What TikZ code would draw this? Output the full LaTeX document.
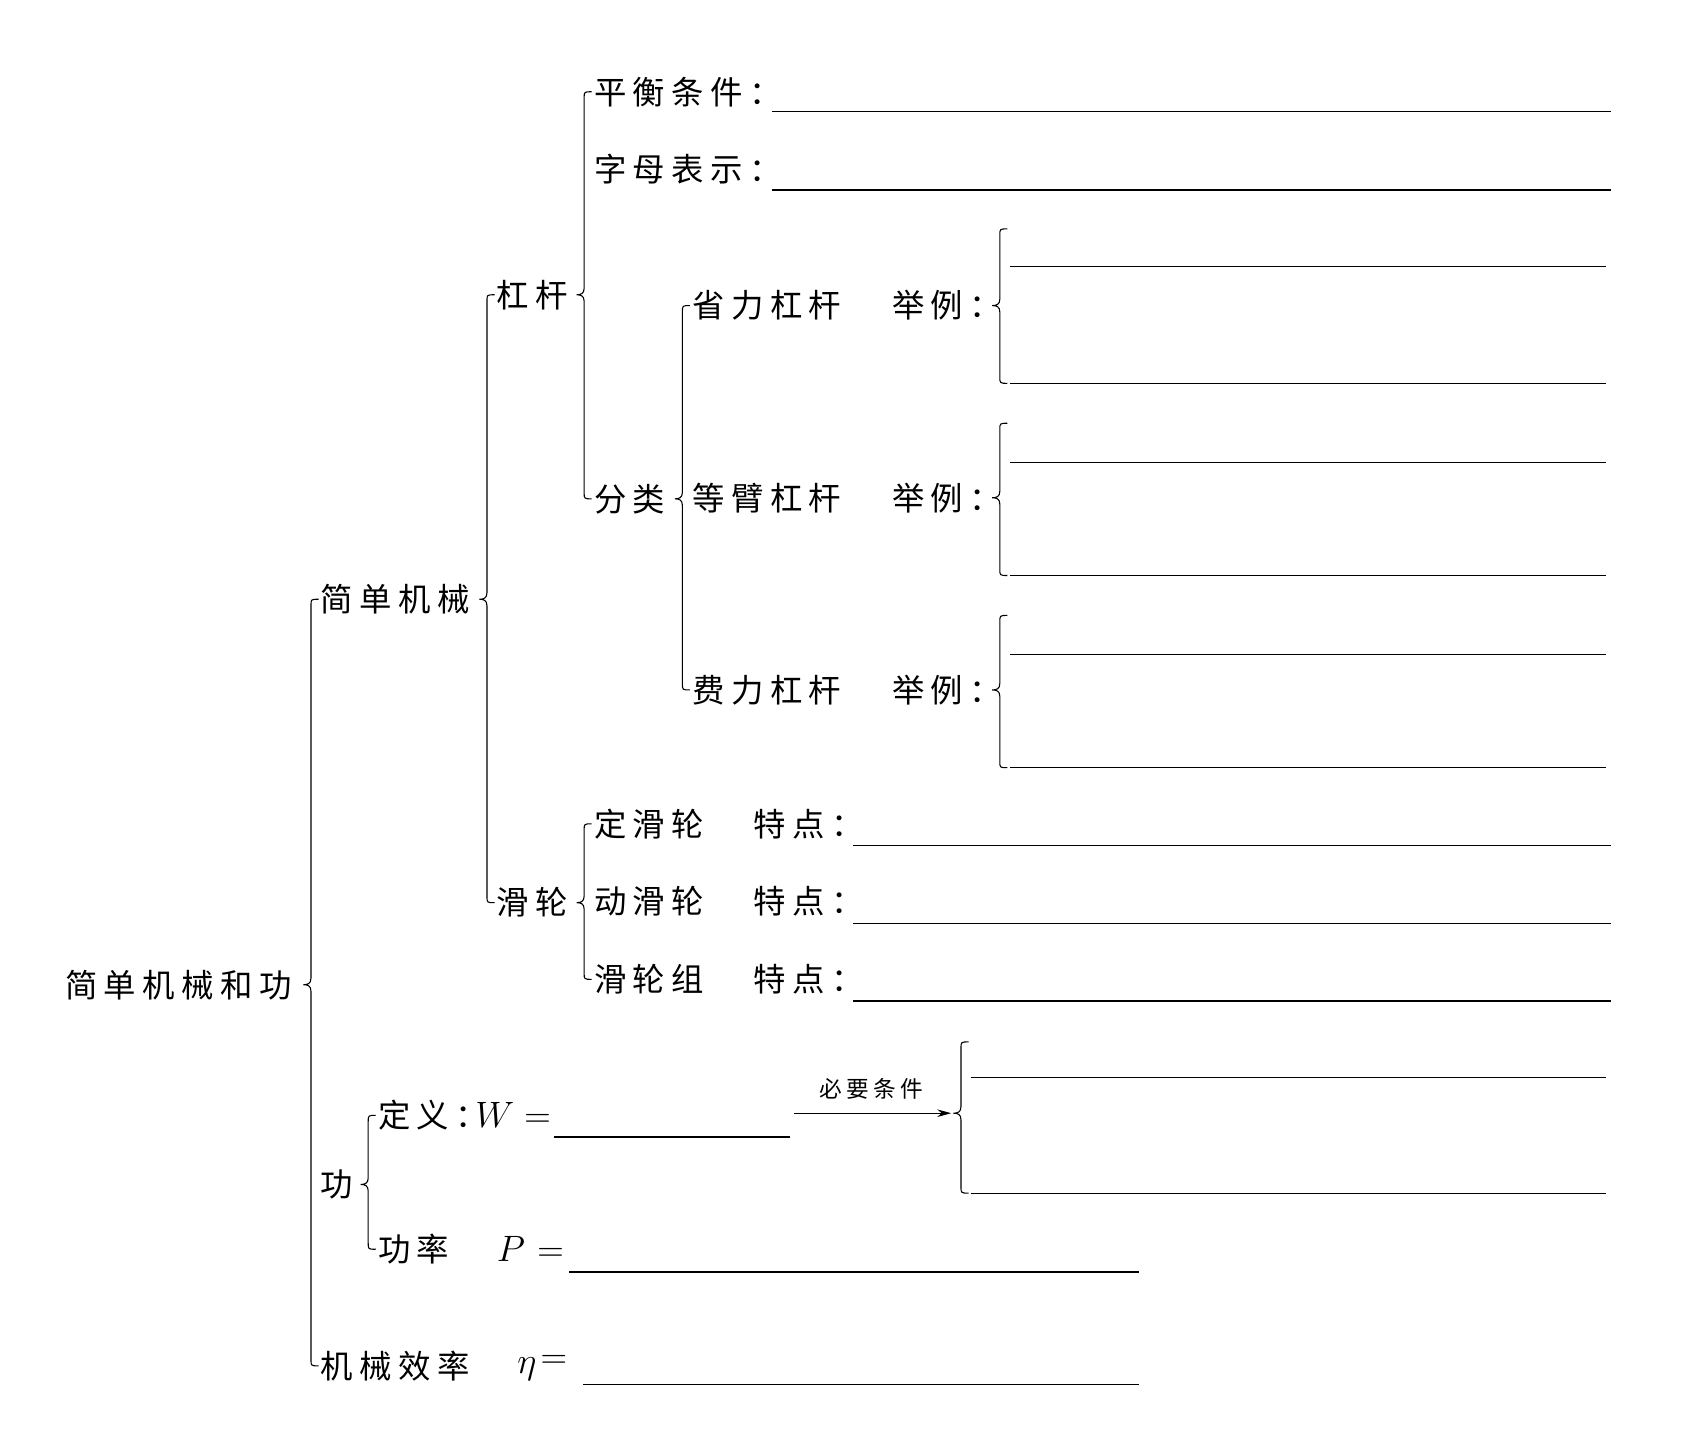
\RequirePackage{fix-cm}
\documentclass[tikz,border=0pt]{standalone}
\usepackage{fontspec}
\newfontfamily\cjk[LetterSpace=20]{Noto Sans CJK SC}
\usetikzlibrary{arrows.meta,calc}
\newcommand\brc[3]{%
  \draw[brc] let \p1=#1, \p2=#2, \p3=#3 in
   (\x2-2pt,\y2) .. controls (\x2-9pt,\y2) .. (\x2-9pt,\y2-6pt)
   -- (\x2-9pt,\y1+6pt) .. controls (\x2-9pt,\y1+1pt) and (\x2-12pt,\y1) .. (\x2-16pt,\y1)
   .. controls (\x2-12pt,\y1) and (\x2-9pt,\y1-1pt) .. (\x2-9pt,\y1-6pt)
   -- (\x2-9pt,\y3+6pt) .. controls (\x2-9pt,\y3) .. (\x3-2pt,\y3);}
\begin{document}
\begin{tikzpicture}[x=1pt,y=-1pt,
  txt/.style={anchor=west,inner sep=0pt,font=\cjk\fontsize{30}{36}\selectfont},
  mth/.style={anchor=west,inner sep=0pt,font=\fontsize{34}{40}\selectfont},
  small/.style={inner sep=0pt,font=\cjk\fontsize{21}{25}\selectfont},
  blank/.style={line width=1.1pt},
  brc/.style={line width=1pt}]
\useasboundingbox[fill=white] (0,0) rectangle (1568,1338);

% level 0 / 1
\node[txt] (root) at (60,912) {简单机械和功};
\node[txt] (jdjx) at (297,555) {简单机械};
\node[txt] (gong) at (297,1097) {功};
\node[txt] (jxxl) at (297,1265) {机械效率};
\node[mth] (eta) at (479,1267) {$\eta\mkern2mu\raisebox{5pt}{$=$}$};
\coordinate (e1) at (540,1282); \coordinate (e2) at (1055,1282);
\draw[blank] (e1) -- (e2);

% under 简单机械
\node[txt] (gg) at (460,273) {杠杆};
\node[txt] (hl) at (460,836) {滑轮};

% under 杠杆
\node[txt] (ph) at (550,85) {平衡条件：};
\coordinate (p1) at (715,103); \coordinate (p2) at (1492,103);
\draw[blank] (p1) -- (p2);
\node[txt] (zm) at (550,157) {字母表示：};
\coordinate (z1) at (715,176); \coordinate (z2) at (1492,176);
\draw[blank] (z1) -- (z2);
\node[txt] (fl) at (550,462) {分类};

% under 分类
\node[txt] (sl) at (641,283) {省力杠杆};
\node[txt] (jl1) at (826,283) {举例：};
\node[txt] (db) at (641,461) {等臂杠杆};
\node[txt] (jl2) at (826,461) {举例：};
\node[txt] (fll) at (641,639) {费力杠杆};
\node[txt] (jl3) at (826,639) {举例：};

\coordinate (s1t) at (935,212); \coordinate (s1b) at (935,355);
\coordinate (s1a) at (935,247); \coordinate (s1c) at (1487,247); \coordinate (s1d) at (1487,355);
\draw[blank] (s1a) -- (s1c); \draw[blank] (s1b) -- (s1d);
\coordinate (s2t) at (935,392); \coordinate (s2b) at (935,533);
\coordinate (s2a) at (935,428); \coordinate (s2c) at (1487,428); \coordinate (s2d) at (1487,533);
\draw[blank] (s2a) -- (s2c); \draw[blank] (s2b) -- (s2d);
\coordinate (s3t) at (935,570); \coordinate (s3b) at (935,711);
\coordinate (s3a) at (935,606); \coordinate (s3c) at (1487,606); \coordinate (s3d) at (1487,711);
\draw[blank] (s3a) -- (s3c); \draw[blank] (s3b) -- (s3d);

% under 滑轮
\node[txt] (d1) at (550,763) {定滑轮};
\node[txt] (t1) at (698,763) {特点：};
\node[txt] (d2) at (550,835) {动滑轮};
\node[txt] (t2) at (698,835) {特点：};
\node[txt] (d3) at (550,907) {滑轮组};
\node[txt] (t3) at (698,907) {特点：};
\coordinate (h1a) at (790,783); \coordinate (h1b) at (1492,783);
\coordinate (h2a) at (790,855); \coordinate (h2b) at (1492,855);
\coordinate (h3a) at (790,927); \coordinate (h3b) at (1492,927);
\draw[blank] (h1a) -- (h1b); \draw[blank] (h2a) -- (h2b); \draw[blank] (h3a) -- (h3b);

% under 功
\node[txt] (dy) at (350,1033) {定义：};
\node[mth] (dyw) at (440,1033) {$W\mkern5mu{=}$};
\coordinate (w1) at (513,1053); \coordinate (w2) at (732,1053);
\draw[blank] (w1) -- (w2);
\coordinate (a1) at (735,1031); \coordinate (a2) at (881,1031);
\draw[line width=1pt,-{Stealth[length=13pt,width=7pt]}] (a1) -- (a2);
\node[small] (bytj) at (807,1008) {必要条件};
\coordinate (n1) at (899,965); \coordinate (n2) at (899,1105);
\coordinate (n1a) at (899,998); \coordinate (n1b) at (1487,998); \coordinate (n2b) at (1487,1105);
\draw[blank] (n1a) -- (n1b); \draw[blank] (n2) -- (n2b);

\node[txt] (gl) at (350,1157) {功率};
\node[mth] (pp) at (460,1157) {$P\mkern6mu{=}$};
\coordinate (q1) at (527,1178); \coordinate (q2) at (1055,1178);
\draw[blank] (q1) -- (q2);

% braces
\brc{(root.east)}{(jdjx.west)}{(jxxl.west)}
\brc{(jdjx.east)}{(gg.west)}{(hl.west)}
\brc{(gg.east)}{(ph.west)}{(fl.west)}
\brc{(fl.east)}{(sl.west)}{(fll.west)}
\brc{(jl1.east)}{(s1t)}{(s1b)}
\brc{(jl2.east)}{(s2t)}{(s2b)}
\brc{(jl3.east)}{(s3t)}{(s3b)}
\brc{(hl.east)}{(d1.west)}{(d3.west)}
\brc{(gong.east)}{(dy.west)}{(gl.west)}
\brc{(a2)}{(n1)}{(n2)}
\end{tikzpicture}
\end{document}
